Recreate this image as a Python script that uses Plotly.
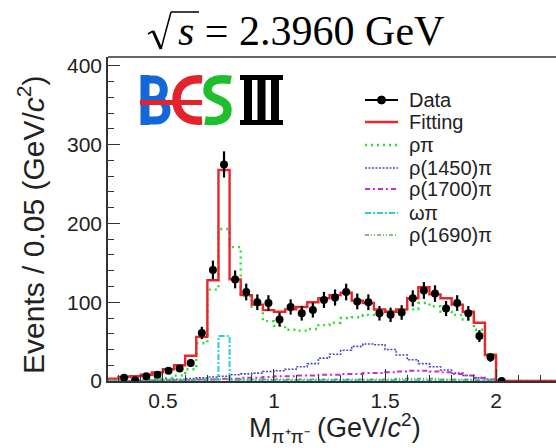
import plotly.graph_objects as go

# ---- histogram binning (0.05 GeV/c^2 bins) ----
bin_low = [round(0.25 + 0.05 * i, 3) for i in range(41)]
bin_edges = bin_low + [2.30]

# ---- measured spectrum ----
data_x = [0.325, 0.375, 0.425, 0.475, 0.525, 0.575, 0.625, 0.675, 0.725, 0.775,
          0.825, 0.875, 0.925, 0.975, 1.025, 1.075, 1.125, 1.175, 1.225, 1.275,
          1.325, 1.375, 1.425, 1.475, 1.525, 1.575, 1.625, 1.675, 1.725, 1.775,
          1.825, 1.875, 1.925, 1.975, 2.025]
data_y = [4, 1, 6, 8, 13, 16, 23, 61, 141, 275,
          129, 113, 100, 99, 78, 94, 86, 90, 103, 106,
          113, 101, 100, 86, 84, 87, 105, 115, 111, 92,
          99, 86, 57, 30, 0]

# ---- fit result and components, per bin (0.25 ... 2.25) ----
fit_total = [3, 5, 6, 8, 11, 15, 20, 32, 56, 128,
             268, 129, 109, 97, 90, 88, 91, 94, 100, 105,
             109, 112, 102, 99, 91, 88, 91, 105, 119, 110,
             105, 97, 88, 74, 33, 0, 0, 0, 0, 0, 0]
rho_pi = [1, 1, 2, 2, 3, 4, 7, 15, 48, 116,
          193, 170, 108, 94, 76, 70, 65, 64, 66, 71,
          74, 80, 81, 84, 90, 89, 88, 91, 99, 95,
          88, 84, 78, 65, 34, 0, 0, 0, 0, 0, 0]
rho1450_pi = [0, 0, 1, 1, 1, 2, 2, 3, 4, 5,
              6, 8, 9, 10, 12, 13, 15, 18, 22, 29,
              34, 39, 44, 47, 46, 40, 33, 27, 22, 18,
              14, 10, 7, 4, 2, 0, 0, 0, 0, 0, 0]
rho1700_pi = [0, 0, 0, 0, 1, 1, 1, 1, 2, 2,
              3, 3, 4, 4, 5, 6, 6, 7, 7, 8,
              8, 9, 9, 10, 10, 11, 12, 13, 13, 12,
              11, 9, 7, 4, 2, 0, 0, 0, 0, 0, 0]
omega_pi = [0, 1, 1, 1, 1, 1, 1, 1, 1, 2,
            57, 1, 1, 1, 1, 1, 1, 1, 1, 1,
            1, 1, 1, 1, 1, 1, 1, 1, 1, 1,
            1, 1, 1, 1, 1, 0, 0, 0, 0, 0, 0]
rho1690_pi = [0, 0, 0, 0, 1, 1, 1, 1, 2, 2,
              2, 2, 2, 2, 2, 2, 2, 2, 2, 2,
              2, 2, 2, 2, 2, 2, 3, 3, 3, 3,
              2, 2, 2, 1, 1, 0, 0, 0, 0, 0, 0]

y_ticks = [0, 100, 200, 300, 400]
x_ticks = [0.5, 1, 1.5, 2]
x_tick_text = ["0.5", "1", "1.5", "2"]

W, H = 556, 448
ML, MT, MB, MR = 108, 57, 67, 0
PW, PH = W - ML - MR, H - MT - MB

SANS = "Liberation Sans"
SERIF = "Liberation Serif"
RED = "#e8262b"


def step(vals):
    return vals + [vals[-1]]


fig = go.Figure()

components = [
    ("ρπ", rho_pi, "#2edc2e", "2px,4px", 2.4),
    ("ρ(1450)π", rho1450_pi, "#4a4ac4", "2px,1.5px", 1.6),
    ("ρ(1700)π", rho1700_pi, "#cc2ccc", "5px,3px,2px,3px", 2.0),
    ("ωπ", omega_pi, "#28cfe0", "6px,2px,2px,2px", 2.0),
    ("ρ(1690)π", rho1690_pi, "#5aa85a", "4px,2px,1px,2px,1px,2px", 1.6),
]

for name, vals, col, dash, w in components:
    fig.add_trace(go.Scatter(
        x=bin_edges, y=step(vals), mode="lines", name=name,
        line=dict(color=col, width=w, dash=dash, shape="hv"),
    ))

fig.add_trace(go.Scatter(
    x=bin_edges, y=step(fit_total), mode="lines", name="Fitting",
    line=dict(color=RED, width=2.4, shape="hv"),
))

fig.add_trace(go.Scatter(
    x=data_x, y=data_y, mode="markers", name="Data",
    marker=dict(color="black", size=8),
    error_y=dict(type="data", array=[v ** 0.5 for v in data_y],
                 color="black", thickness=2.2, width=0),
))


def to_paper(x, y):
    return ((x - ML) / PW, (H - MB - y) / PH)


def path(*segs):
    # every point gets its own command letter; C takes its three points together
    out = []
    for cmd, pts in segs:
        if cmd == "C":
            coords = " ".join("%.5f,%.5f" % to_paper(px, py) for px, py in pts)
            out.append("C " + coords)
        else:
            for px, py in pts:
                out.append("%s %.5f,%.5f" % ((cmd,) + to_paper(px, py)))
    return " ".join(out)


def stroke(p, color, width):
    return dict(type="path", xref="paper", yref="paper", path=p,
                line=dict(color=color, width=width), fillcolor="rgba(0,0,0,0)",
                layer="above")


def seg(x0, y0, x1, y1, color, width, dash="solid"):
    a = to_paper(x0, y0)
    b = to_paper(x1, y1)
    return dict(type="line", xref="paper", yref="paper",
                x0=a[0], y0=a[1], x1=b[0], y1=b[1],
                line=dict(color=color, width=width, dash=dash), layer="above")


shapes = []
annotations = []

# frame top edge
shapes.append(dict(type="line", xref="paper", yref="paper", x0=0, x1=1, y0=1, y1=1,
                   line=dict(color="#333333", width=1.6)))

# experiment logo
blue, red, green = "#1467d9", "#e3222b", "#1fbe2c"
shapes.append(seg(145, 75, 145, 125, blue, 9))
shapes.append(stroke(path(("M", [(141, 79.5)]), ("L", [(154, 79.5)]),
                          ("C", [(167, 79.5), (167, 100), (154, 100)]),
                          ("L", [(141, 100)])), blue, 8))
shapes.append(stroke(path(("M", [(141, 100)]), ("L", [(156, 100)]),
                          ("C", [(170, 100), (170, 120.5), (156, 120.5)]),
                          ("L", [(141, 120.5)])), blue, 8))
shapes.append(stroke(path(("M", [(202, 79.5)]),
                          ("C", [(182, 78), (176.5, 90), (176.5, 100)]),
                          ("C", [(176.5, 110), (182, 122), (202, 120.5)])), red, 8.5))
shapes.append(seg(140, 102.5, 202, 102.5, red, 5))
shapes.append(stroke(path(("M", [(231, 80)]),
                          ("C", [(221, 78), (207.5, 79), (207.5, 90)]),
                          ("C", [(207.5, 101), (227.5, 97), (227.5, 110)]),
                          ("C", [(227.5, 121), (214, 122), (205, 120.5)])), green, 8.5))
shapes.append(seg(240, 77.5, 283, 77.5, "black", 5))
shapes.append(seg(240, 122.5, 283, 122.5, "black", 5))
for cx in (248, 261.5, 275):
    shapes.append(seg(cx, 76, cx, 124, "black", 8))

# title: radical sign drawn as strokes, then the expression
shapes.append(seg(148, 34, 153, 31, "black", 1.5))
shapes.append(seg(153, 31, 161, 49, "black", 3.0))
shapes.append(seg(161, 49, 171, 12, "black", 1.5))
shapes.append(seg(171, 12, 199, 12, "black", 1.5))
annotations.append(dict(
    text="<i>s</i> = 2.3960 GeV", x=to_paper(176, 0)[0], y=to_paper(0, 31)[1],
    xref="paper", yref="paper", showarrow=False, xanchor="left", yanchor="middle",
    font=dict(family=SERIF, size=42, color="black")))

# axis titles
annotations.append(dict(
    text="Events / 0.05 (GeV/<i>c</i><sup>2</sup>)", textangle=-90,
    x=to_paper(31, 0)[0], y=to_paper(0, 225)[1], xref="paper", yref="paper",
    showarrow=False, xanchor="center", yanchor="middle",
    font=dict(family=SANS, size=30, color="#222222")))
annotations.append(dict(
    text="M<sub>π⁺π⁻</sub> (GeV/<i>c</i><sup>2</sup>)",
    x=to_paper(335, 0)[0], y=to_paper(0, 428)[1], xref="paper", yref="paper",
    showarrow=False, xanchor="center", yanchor="middle",
    font=dict(family=SANS, size=27, color="#222222")))

# legend block
legend_rows = [
    ("Data", "black", "solid", 2.0),
    ("Fitting", RED, "solid", 2.4),
]
for name, _, col, dash, w in components:
    legend_rows.append((name, col, dash, w))
row_y = [100, 122, 145, 168, 189, 213, 235]
for i, (name, col, dash, w) in enumerate(legend_rows):
    ly = row_y[i]
    shapes.append(seg(365, ly, 398, ly, col, w, dash))
    annotations.append(dict(
        text=name, x=to_paper(407, 0)[0], y=to_paper(0, ly)[1],
        xref="paper", yref="paper", showarrow=False, xanchor="left", yanchor="middle",
        font=dict(family=SANS, size=20, color="#222222")))
c0 = to_paper(377.5, 104)
c1 = to_paper(385.5, 96)
shapes.append(dict(type="circle", xref="paper", yref="paper",
                   x0=c0[0], y0=c0[1], x1=c1[0], y1=c1[1],
                   fillcolor="black", line=dict(color="black", width=1), layer="above"))

fig.update_layout(
    width=W, height=H,
    margin=dict(l=ML, r=MR, t=MT, b=MB),
    paper_bgcolor="white", plot_bgcolor="white",
    shapes=shapes, annotations=annotations,
    showlegend=False,
)
fig.update_xaxes(
    range=[0.2525, 2.27], showgrid=False, zeroline=False,
    showline=True, linecolor="#333333", linewidth=1.6,
    tickvals=x_ticks, ticktext=x_tick_text, ticks="inside", ticklen=12, tickwidth=1.4,
    tickcolor="#333333", tickfont=dict(family=SANS, size=21, color="#222222"),
    minor=dict(ticks="inside", dtick=0.1, tick0=0, ticklen=6, tickcolor="#333333", tickwidth=1.2),
)
fig.update_yaxes(
    range=[0, 411.4], showgrid=False, zeroline=False,
    showline=True, linecolor="#333333", linewidth=1.6,
    tickvals=y_ticks, ticks="inside", ticklen=12, tickwidth=1.4,
    tickcolor="#333333", tickfont=dict(family=SANS, size=21, color="#222222"),
    minor=dict(ticks="inside", dtick=20, tick0=0, ticklen=6, tickcolor="#333333", tickwidth=1.2),
)

fig.write_html("out.html")
